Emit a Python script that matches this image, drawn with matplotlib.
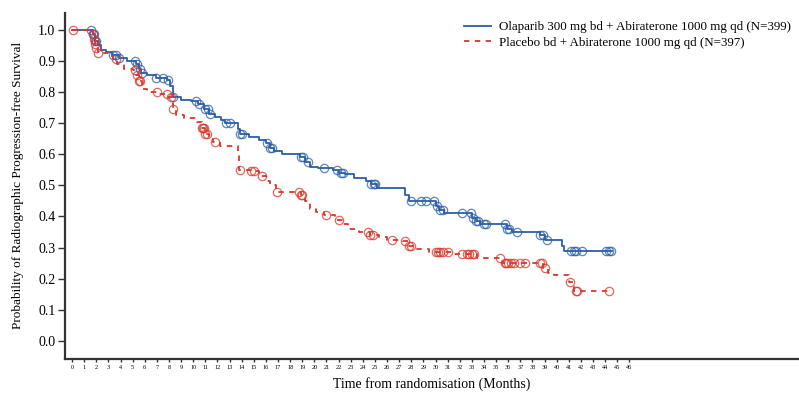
import numpy as np
import matplotlib
matplotlib.use("Agg")
import matplotlib.pyplot as plt

plt.rcParams['font.family'] = ['Liberation Serif', 'DejaVu Serif']

# ---- data ----
ola_label = "Olaparib 300 mg bd + Abiraterone 1000 mg qd (N=399)"
pla_label = "Placebo bd + Abiraterone 1000 mg qd (N=397)"

ola_t = [0, 1.7, 1.9, 2.1, 2.4, 2.8, 3.3, 3.9, 4.5, 5.3, 5.5, 5.7, 6.2, 6.9, 7.8, 8.1, 8.3,
         9.0, 9.8, 10.4, 10.9, 11.3, 11.8, 12.3, 12.6, 13.7, 13.9, 14.6, 15.4, 16.0, 16.3,
         16.7, 17.3, 18.8, 19.2, 19.6, 20.3, 21.5, 22.0, 22.5, 23.3, 24.3, 24.7, 25.2, 27.5,
         27.8, 30.0, 30.3, 30.7, 33.0, 33.3, 33.7, 35.9, 36.3, 38.6, 39.0, 40.4, 40.6]
ola_s = [1.0, 0.985, 0.965, 0.95, 0.935, 0.93, 0.92, 0.91, 0.90, 0.89, 0.875, 0.86, 0.855,
         0.845, 0.84, 0.82, 0.785, 0.775, 0.77, 0.76, 0.745, 0.73, 0.72, 0.71, 0.70, 0.68,
         0.665, 0.655, 0.645, 0.635, 0.62, 0.61, 0.60, 0.59, 0.575, 0.56, 0.555, 0.55, 0.54,
         0.535, 0.525, 0.515, 0.505, 0.49, 0.47, 0.45, 0.435, 0.42, 0.41, 0.395, 0.385, 0.375,
         0.36, 0.35, 0.34, 0.325, 0.305, 0.29]
ola_end = 44.6
ola_cens = [1.6, 1.7, 1.8, 1.9, 2.0, 3.4, 3.6, 3.9, 5.2, 5.4, 5.6, 5.8, 6.9, 7.5, 7.9, 8.3,
            10.2, 10.5, 11.0, 11.2, 11.4, 12.7, 13.0, 13.9, 14.0, 16.1, 16.3, 16.5, 18.9,
            19.1, 19.5, 20.8, 21.9, 22.2, 22.4, 24.7, 24.9, 25.0, 28.0, 28.8, 29.2, 29.9,
            30.1, 30.4, 30.6, 32.2, 32.9, 33.1, 33.3, 33.5, 34.0, 34.2, 35.7, 35.9, 36.1,
            36.7, 38.6, 38.9, 39.2, 41.2, 41.4, 41.6, 42.1, 44.1, 44.3, 44.5]

pla_t = [0, 1.7, 1.8, 1.9, 2.0, 2.1, 3.0, 3.4, 3.7, 4.3, 5.0, 5.3, 5.5, 5.8, 6.2, 7.2, 7.9,
         8.3, 8.6, 9.2, 10.3, 10.7, 11.0, 11.3, 11.6, 12.2, 13.7, 13.8, 14.8, 15.4, 16.0,
         16.3, 16.8, 18.9, 19.2, 19.6, 20.1, 20.8, 21.7, 22.3, 22.8, 23.7, 24.6, 25.3, 26.0,
         27.3, 27.8, 28.2, 29.5, 31.5, 33.4, 35.5, 38.9, 39.3, 39.8, 41.0, 41.4]
pla_s = [1.0, 0.985, 0.97, 0.955, 0.94, 0.925, 0.915, 0.905, 0.89, 0.875, 0.87, 0.855,
         0.835, 0.81, 0.80, 0.795, 0.785, 0.745, 0.725, 0.715, 0.705, 0.685, 0.665, 0.655,
         0.64, 0.625, 0.60, 0.55, 0.545, 0.53, 0.515, 0.50, 0.48, 0.47, 0.45, 0.425, 0.415,
         0.405, 0.39, 0.375, 0.36, 0.35, 0.34, 0.335, 0.325, 0.32, 0.305, 0.295, 0.285, 0.28,
         0.267, 0.25, 0.235, 0.22, 0.212, 0.19, 0.16]
pla_end = 44.3
pla_cens = [0.1, 1.7, 1.8, 1.9, 2.0, 2.1, 3.6, 5.2, 5.4, 5.5, 5.6, 7.0, 7.8, 8.2, 8.3,
            10.7, 10.8, 10.9, 11.0, 11.1, 11.8, 13.9, 14.8, 15.0, 15.7, 16.9, 18.7, 18.9,
            19.0, 21.0, 22.0, 24.4, 24.6, 24.8, 26.4, 27.5, 27.8, 28.0, 30.0, 30.2, 30.4,
            30.6, 31.0, 32.2, 32.6, 32.8, 33.0, 33.2, 35.3, 35.7, 35.8, 36.0, 36.2, 36.5,
            37.0, 37.4, 38.6, 38.8, 39.0, 41.1, 41.6, 41.7, 44.3]

x_ticks = list(range(0, 47))
y_ticks = [0.0, 0.1, 0.2, 0.3, 0.4, 0.5, 0.6, 0.7, 0.8, 0.9, 1.0]

blue = '#2b5ea7'
red = '#d8372a'

fig = plt.figure(figsize=(7.99, 3.94), dpi=100)
ax = fig.add_axes([0.0814, 0.0888, 0.9186, 0.879])


def km(ax, t, s, end, cens, color, ls, label):
    tt = np.array(t + [end])
    ss = np.array(s + [s[-1]])
    kw = dict(dashes=(3, 3)) if ls == '--' else {}
    ax.step(tt, ss, where='post', color=color, lw=1.3, ls=ls, label=label, **kw)
    c = np.array(cens)
    idx = np.searchsorted(np.array(t), c, side='right') - 1
    cy = np.array(s)[idx]
    ax.plot(c, cy, ls='none', marker='o', ms=6.0, mfc='none', mec=color, mew=0.9,
            alpha=0.75)


km(ax, ola_t, ola_s, ola_end, ola_cens, blue, '-', ola_label)
km(ax, pla_t, pla_s, pla_end, pla_cens, red, '--', pla_label)

ax.set_xlim(-0.58, 60)
ax.set_ylim(-0.058, 1.055)
ax.set_xticks(x_ticks)
ax.set_xticklabels([str(v) for v in x_ticks], fontsize=4.5)
ax.set_yticks(y_ticks)
ax.set_yticklabels([f"{v:.1f}" for v in y_ticks], fontsize=10)
ax.tick_params(axis='x', length=2.5, width=1.0, pad=2, color='#333333')
ax.tick_params(axis='y', length=5, width=1.0, pad=2, color='#333333')
for sp in ['top', 'right']:
    ax.spines[sp].set_visible(False)
for sp in ['left', 'bottom']:
    ax.spines[sp].set_linewidth(1.6)
    ax.spines[sp].set_color('#333333')

ax.set_xlabel("Time from randomisation (Months)", fontsize=10, labelpad=5)
ax.set_ylabel("Probability of Radiographic Progression-free Survival", fontsize=9.5, labelpad=10)

leg = ax.legend(loc='upper left', bbox_to_anchor=(0.543, 0.975), frameon=False, fontsize=9.4,
                handlelength=2.1, handletextpad=0.6, labelspacing=0.25, borderpad=0,
                borderaxespad=0)

fig.savefig('out.png', dpi=100)
